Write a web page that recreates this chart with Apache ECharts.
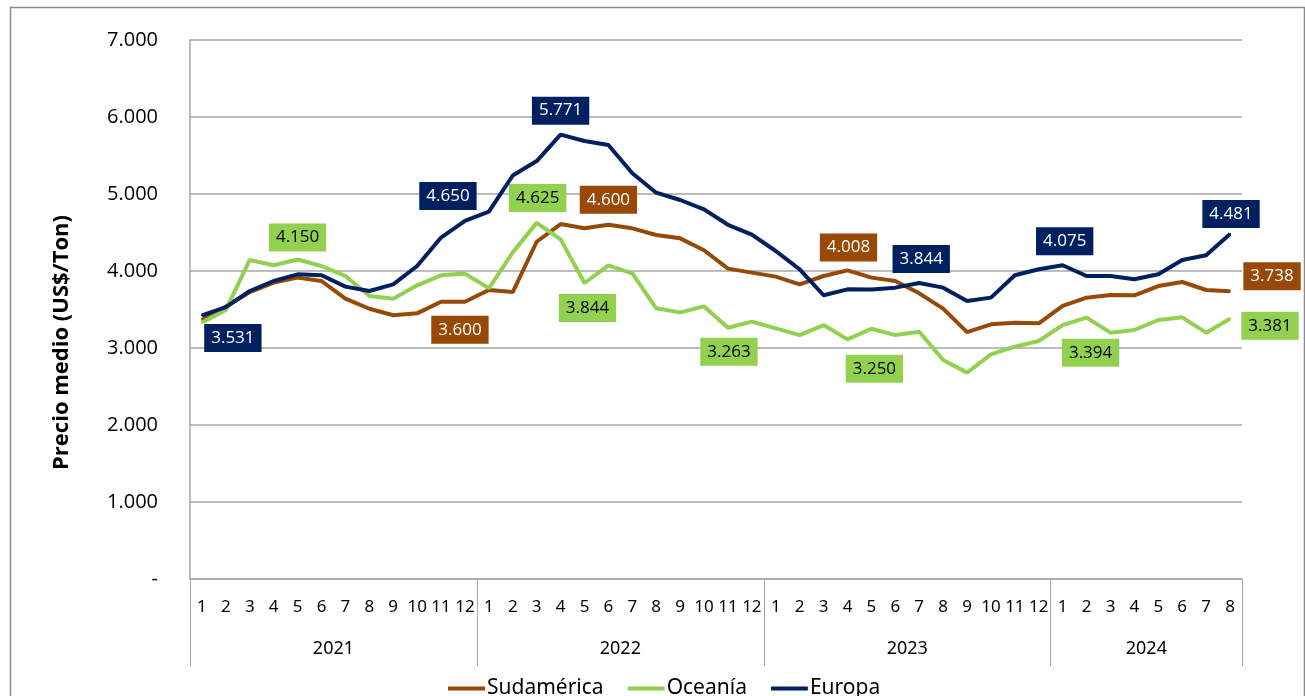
<!DOCTYPE html>
<html>
<head>
<meta charset="utf-8">
<script src="https://cdn.jsdelivr.net/npm/echarts@6/dist/echarts.min.js"></script>
<style>html,body{margin:0;padding:0;background:#fff}#c{width:1305px;height:696px}</style>
</head>
<body>
<div id="c"></div>
<script>
const years = ['2021', '2022', '2023', '2024'];
const monthsPerYear = [12, 12, 12, 8];
const monthLabels = [
  '1','2','3','4','5','6','7','8','9','10','11','12',
  '1','2','3','4','5','6','7','8','9','10','11','12',
  '1','2','3','4','5','6','7','8','9','10','11','12',
  '1','2','3','4','5','6','7','8'
];
const yTicks = [0, 1000, 2000, 3000, 4000, 5000, 6000, 7000];

const sudamerica = [
  3365,3538,3727,3849,3914,3870,3642,3510,3425,3450,3600,3600,
  3753,3727,4380,4610,4554,4600,4554,4467,4424,4270,4031,3979,
  3927,3827,3935,4008,3914,3870,3710,3511,3207,3307,3329,3320,
  3546,3654,3689,3684,3805,3857,3753,3738
];
const oceania = [
  3330,3495,4143,4074,4150,4065,3935,3675,3640,3814,3944,3966,
  3775,4242,4625,4411,3844,4074,3970,3515,3463,3540,3263,3342,
  3255,3168,3298,3112,3250,3168,3212,2844,2680,2918,3017,3091,
  3298,3394,3199,3234,3364,3398,3199,3381
];
const europa = [
  3425,3531,3740,3870,3957,3945,3797,3740,3827,4065,4434,4650,
  4770,5240,5428,5771,5688,5636,5269,5017,4922,4801,4600,4472,
  4260,4022,3685,3762,3760,3784,3844,3784,3610,3654,3944,4022,
  4075,3935,3935,3892,3957,4143,4204,4481
];

// indices of the labelled points
const sudLabelIdx = [11, 17, 27, 43];
const oceLabelIdx = [4, 14, 16, 22, 28, 37, 43];
const eurLabelIdx = [1, 11, 15, 30, 36, 43];

// label box offsets from the point [dx, dy] (styling)
const labelOffsets = {
  sud: {11: [-5, 28], 17: [0, -25], 27: [1, -23], 43: [42, -15]},
  oce: {4: [0, -22], 14: [1, -25], 16: [3, 25], 22: [1, 24], 28: [3, 40], 37: [4, 35], 43: [40, 7]},
  eur: {1: [7, 31], 11: [-17, -25], 15: [0, -24], 30: [2, -24], 36: [2, -24], 43: [1, -20]}
};

function fmt(v) {
  if (v === 0) return '-';
  return String(Math.round(v)).replace(/\B(?=(\d{3})+(?!\d))/g, '.');
}

const labelFont = '"Open Sans", "Noto Sans", sans-serif';
const axisFont = '"Noto Sans", "Open Sans", sans-serif';

function buildData(values, idxs, offsets, bg, fg) {
  return values.map((v, i) => {
    if (idxs.indexOf(i) < 0) return v;
    return {
      value: v,
      label: {
        show: true,
        position: 'inside',
        offset: offsets[i],
        formatter: p => fmt(p.value),
        backgroundColor: bg,
        color: fg,
        padding: [4, 7, 4, 7],
        lineHeight: 20,
        fontSize: 17,
        fontFamily: labelFont
      }
    };
  });
}

// year axis: one point per month boundary
const yearAxisData = [];
const yearLabelIdx = {};
const yearTickIdx = [0];
let pos = 0;
years.forEach((y, k) => {
  yearLabelIdx[pos + monthsPerYear[k] / 2] = y;
  pos += monthsPerYear[k];
  yearTickIdx.push(pos);
});
for (let i = 0; i <= pos; i++) yearAxisData.push(yearLabelIdx[i] || '');

const colors = {sud: '#984807', oce: '#92D050', eur: '#002060'};

const chart = echarts.init(document.getElementById('c'));
chart.setOption({
  animation: false,
  backgroundColor: '#fff',
  graphic: [{
    type: 'rect', left: 8, top: 5,
    shape: {width: 1294, height: 700},
    style: {fill: 'none', stroke: '#8c8c8c', lineWidth: 1.5},
    silent: true
  }],
  grid: {left: 190, right: 63, top: 40, bottom: 117, containLabel: false},
  legend: {
    top: 673,
    left: 443,
    itemWidth: 37,
    itemHeight: 4,
    itemGap: 24,
    icon: 'rect',
    textStyle: {fontFamily: axisFont, fontSize: 21, color: '#000', padding: [0, 0, 0, -3]},
    data: ['Sudamérica', 'Oceanía', 'Europa']
  },
  xAxis: [{
    type: 'category',
    data: monthLabels,
    boundaryGap: true,
    axisLine: {lineStyle: {color: '#a6a6a6', width: 1.5}},
    axisTick: {show: false},
    axisLabel: {interval: 0, margin: 20, fontSize: 17, color: '#000', fontFamily: axisFont}
  }, {
    type: 'category',
    data: yearAxisData,
    boundaryGap: false,
    position: 'bottom',
    axisLine: {show: false},
    axisTick: {
      show: true,
      length: 87,
      interval: (i) => yearTickIdx.indexOf(i) >= 0,
      lineStyle: {color: '#a6a6a6', width: 1}
    },
    axisLabel: {
      interval: (i) => !!yearLabelIdx[i],
      margin: 61,
      fontSize: 18,
      color: '#000',
      fontFamily: axisFont
    }
  }],
  yAxis: {
    type: 'value',
    min: yTicks[0],
    max: yTicks[yTicks.length - 1],
    interval: yTicks[1] - yTicks[0],
    name: 'Precio medio (US$/Ton)',
    nameLocation: 'middle',
    nameRotate: 90,
    nameGap: 117,
    nameTextStyle: {fontSize: 22, fontWeight: 'bold', color: '#000', fontFamily: labelFont, padding: [0, 66, 0, 0]},
    axisLine: {show: true, lineStyle: {color: '#a6a6a6', width: 1.5}},
    axisTick: {show: false},
    splitLine: {lineStyle: {color: '#a6a6a6', width: 1.5}},
    axisLabel: {
      margin: 32,
      fontSize: 20,
      color: '#000',
      fontFamily: labelFont,
      formatter: v => fmt(v)
    }
  },
  series: [{
    name: 'Sudamérica',
    type: 'line',
    data: buildData(sudamerica, sudLabelIdx, labelOffsets.sud, colors.sud, '#fff'),
    color: colors.sud,
    lineStyle: {width: 4, color: colors.sud},
    symbol: 'circle', symbolSize: 2,
    z: 2
  }, {
    name: 'Oceanía',
    type: 'line',
    data: buildData(oceania, oceLabelIdx, labelOffsets.oce, colors.oce, '#000'),
    color: colors.oce,
    lineStyle: {width: 4, color: colors.oce},
    symbol: 'circle', symbolSize: 2,
    z: 3
  }, {
    name: 'Europa',
    type: 'line',
    data: buildData(europa, eurLabelIdx, labelOffsets.eur, colors.eur, '#fff'),
    color: colors.eur,
    lineStyle: {width: 4, color: colors.eur},
    symbol: 'circle', symbolSize: 2,
    z: 4
  }]
});
</script>
</body>
</html>
